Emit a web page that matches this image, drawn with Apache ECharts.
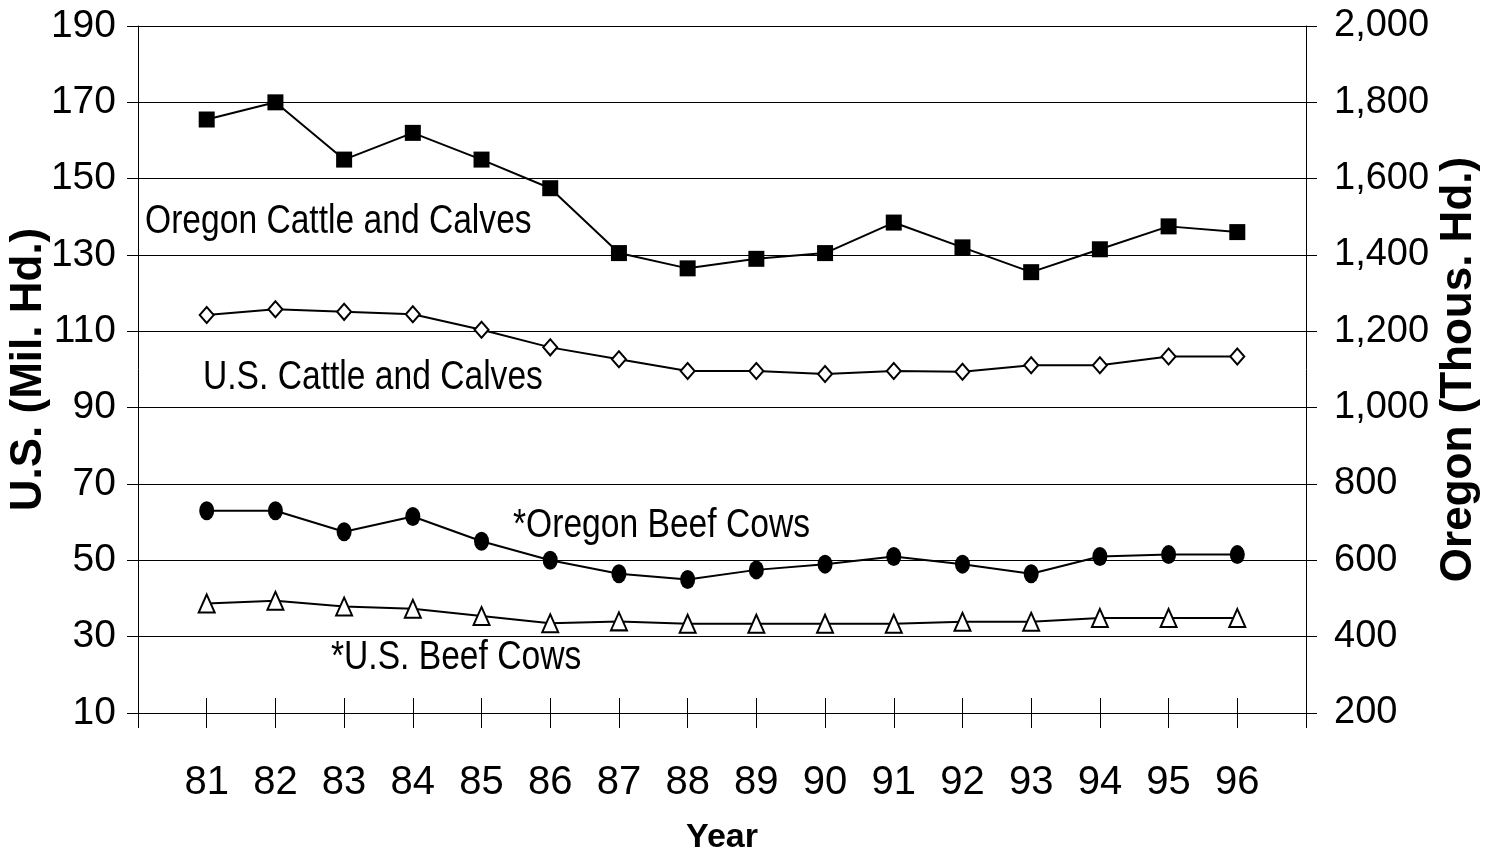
<!DOCTYPE html>
<html>
<head>
<meta charset="utf-8">
<script src="https://cdn.jsdelivr.net/npm/echarts@6/dist/echarts.min.js"></script>
<style>
html,body{margin:0;padding:0;background:#fff;}
#chart{width:1488px;height:860px;}
</style>
</head>
<body>
<div id="chart"></div>
<script>
// ---- data ----
const years = [81, 82, 83, 84, 85, 86, 87, 88, 89, 90, 91, 92, 93, 94, 95, 96];
const oregonCattle = [1755, 1800, 1650, 1720, 1650, 1575, 1405, 1365, 1390, 1405, 1485, 1420, 1355, 1415, 1475, 1460];
const usCattle = [114.3, 115.8, 115.1, 114.5, 110.4, 105.8, 102.7, 99.6, 99.6, 98.8, 99.6, 99.4, 101.1, 101.1, 103.4, 103.4];
const oregonBeefCows = [730, 730, 675, 715, 650, 600, 565, 550, 575, 590, 610, 590, 565, 610, 615, 615];
const usBeefCows = [38.7, 39.4, 37.9, 37.3, 35.4, 33.5, 34.0, 33.4, 33.4, 33.4, 33.4, 33.9, 33.9, 34.9, 34.9, 34.9];
const leftTicks = {min: 10, max: 190, step: 20};
const rightTicks = {min: 200, max: 2000, step: 200};
const seriesNames = ['Oregon Cattle and Calves', 'U.S. Cattle and Calves', '*Oregon Beef Cows', '*U.S. Beef Cows'];

const SANS = '"Liberation Sans", Arial, sans-serif';
const pairs = arr => years.map((y, i) => [y, arr[i]]);

const chart = echarts.init(document.getElementById('chart'), null, {renderer: 'canvas'});
const lineStyle = {color: '#000', width: 2};
const labelText = (text, x, y) => ({
  type: 'text', x: x, y: y, scaleX: 0.84,
  style: {text: text, fill: '#000', font: '40px ' + SANS, align: 'left', verticalAlign: 'middle'}
});

chart.setOption({
  animation: false,
  backgroundColor: '#fff',
  grid: {left: 138, right: 182, top: 26, bottom: 147, containLabel: false, outerBoundsMode: 'none'},
  xAxis: [{
    type: 'value', min: years[0] - 1, max: years[years.length - 1] + 1, interval: 1,
    position: 'bottom',
    name: 'Year', nameLocation: 'middle', nameGap: 108, nameMoveOverlap: false,
    nameTextStyle: {fontFamily: SANS, fontWeight: 'bold', fontSize: 34, color: '#000'},
    axisLine: {show: true, lineStyle: {color: '#000', width: 1}},
    axisTick: {show: true, length: 15, lineStyle: {color: '#000', width: 1}},
    axisLabel: {
      margin: 50, color: '#000', fontFamily: SANS, fontSize: 40,
      formatter: v => years.includes(v) ? String(v) : ''
    },
    splitLine: {show: false}
  }, {
    type: 'value', min: years[0] - 1, max: years[years.length - 1] + 1, interval: 1,
    position: 'bottom',
    axisLine: {show: false},
    axisTick: {show: true, inside: true, length: 15, lineStyle: {color: '#000', width: 1}},
    axisLabel: {show: false},
    splitLine: {show: false}
  }],
  yAxis: [{
    type: 'value', min: leftTicks.min, max: leftTicks.max, interval: leftTicks.step,
    position: 'left',
    name: 'U.S. (Mil. Hd.)', nameLocation: 'middle', nameRotate: 90, nameGap: 87, nameMoveOverlap: false,
    nameTextStyle: {fontFamily: SANS, fontWeight: 'bold', fontSize: 44, color: '#000'},
    axisLine: {show: true, lineStyle: {color: '#000', width: 1}},
    axisTick: {show: true, length: 11, lineStyle: {color: '#000', width: 1}},
    axisLabel: {margin: 22, color: '#000', fontFamily: SANS, fontSize: 39},
    splitLine: {show: true, lineStyle: {color: '#000', width: 1}}
  }, {
    type: 'value', min: rightTicks.min, max: rightTicks.max, interval: rightTicks.step,
    position: 'right',
    name: 'Oregon (Thous. Hd.)', nameLocation: 'middle', nameRotate: 90, nameGap: 131, nameMoveOverlap: false,
    nameTextStyle: {fontFamily: SANS, fontWeight: 'bold', fontSize: 44, color: '#000'},
    axisLine: {show: true, lineStyle: {color: '#000', width: 1}},
    axisTick: {show: true, length: 11, lineStyle: {color: '#000', width: 1}},
    axisLabel: {margin: 28, color: '#000', fontFamily: SANS, fontSize: 38,
      formatter: v => v.toLocaleString('en-US')},
    splitLine: {show: false}
  }],
  series: [{
    name: seriesNames[0], type: 'line', yAxisIndex: 1, data: pairs(oregonCattle),
    symbol: 'rect', symbolSize: 16, lineStyle,
    itemStyle: {color: '#000', borderColor: '#000', borderWidth: 0}
  }, {
    name: seriesNames[1], type: 'line', yAxisIndex: 0, data: pairs(usCattle),
    symbol: 'diamond', symbolSize: [14, 16], lineStyle,
    itemStyle: {color: '#fff', borderColor: '#000', borderWidth: 2}
  }, {
    name: seriesNames[2], type: 'line', yAxisIndex: 1, data: pairs(oregonBeefCows),
    symbol: 'circle', symbolSize: [15, 19], lineStyle,
    itemStyle: {color: '#000', borderColor: '#000', borderWidth: 0}
  }, {
    name: seriesNames[3], type: 'line', yAxisIndex: 0, data: pairs(usBeefCows),
    symbol: 'triangle', symbolSize: [16, 18], lineStyle,
    itemStyle: {color: '#fff', borderColor: '#000', borderWidth: 2}
  }],
  graphic: [
    labelText(seriesNames[0], 145, 222),
    labelText(seriesNames[1], 203, 378),
    labelText(seriesNames[2], 513, 526),
    labelText(seriesNames[3], 331, 658)
  ]
});
</script>
</body>
</html>
